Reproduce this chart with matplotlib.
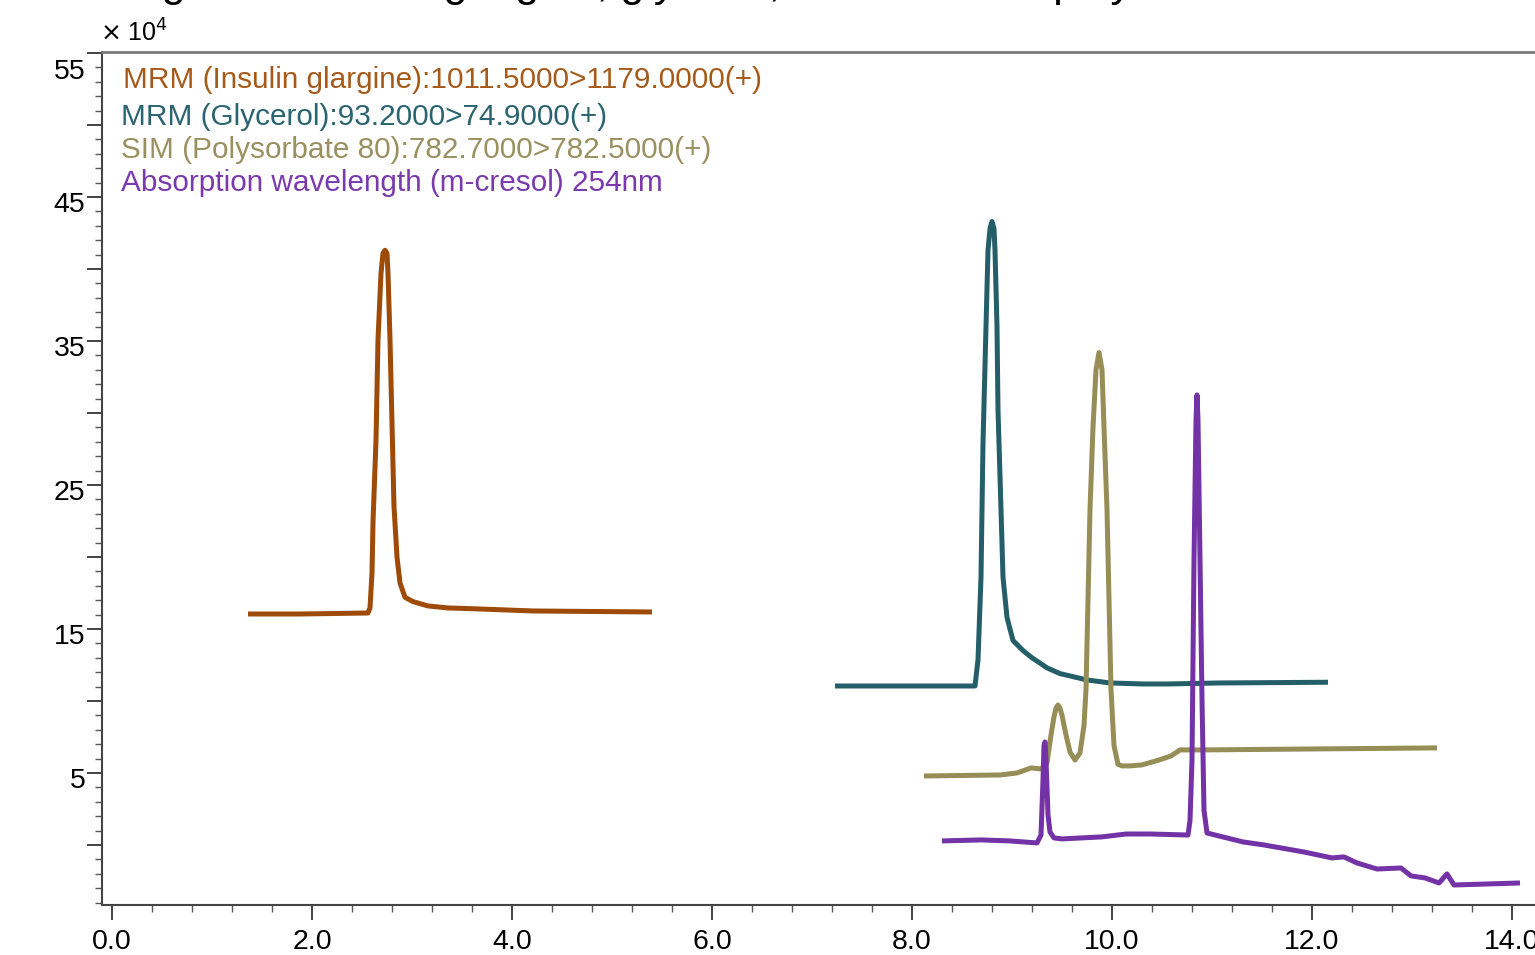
import matplotlib
matplotlib.use('Agg')
import matplotlib.pyplot as plt
from matplotlib.ticker import MultipleLocator, FuncFormatter
from matplotlib.transforms import ScaledTranslation

plt.rcParams['font.family'] = ['Liberation Sans', 'DejaVu Sans']

# retention time (min) and intensity (x 10^4)
glargine_t = [1.36, 1.88, 2.56, 2.58, 2.60, 2.61, 2.64, 2.66, 2.69, 2.71, 2.73, 2.75,
              2.76, 2.78, 2.80, 2.82, 2.85, 2.88, 2.93, 3.01, 3.16, 3.36, 3.63, 4.21, 5.40]
glargine_y = [16.04, 16.04, 16.11, 16.46, 18.9, 22.4, 28.1, 35.1, 39.7, 41.1, 41.3, 41.1,
              39.7, 35.1, 29.3, 23.5, 20.0, 18.2, 17.2, 16.9, 16.6, 16.46, 16.4, 16.25, 16.18]

glycerol_t = [7.23, 8.63, 8.66, 8.69, 8.71, 8.74, 8.76, 8.78, 8.80, 8.82, 8.83, 8.85,
              8.86, 8.89, 8.91, 8.95, 9.01, 9.11, 9.20, 9.35, 9.48, 9.75, 9.98, 10.31,
              10.55, 11.08, 12.16]
glycerol_y = [11.04, 11.04, 12.85, 18.6, 27.9, 36.0, 41.3, 42.8, 43.3, 42.8, 41.3, 36.0,
              30.2, 23.3, 18.6, 15.8, 14.2, 13.5, 13.0, 12.3, 11.9, 11.46, 11.25, 11.18,
              11.18, 11.25, 11.3]

polysorbate_t = [8.12, 8.88, 9.05, 9.19, 9.29, 9.35, 9.39, 9.42, 9.44, 9.46, 9.48, 9.50,
                 9.54, 9.58, 9.63, 9.68, 9.72, 9.74, 9.78, 9.81, 9.84, 9.87, 9.90, 9.92,
                 9.95, 9.99, 10.02, 10.06, 10.10, 10.18, 10.30, 10.47, 10.59, 10.68,
                 10.88, 13.25]
polysorbate_y = [4.79, 4.86, 5.0, 5.35, 5.28, 5.69, 7.64, 8.9, 9.5, 9.72, 9.5, 9.0,
                 7.64, 6.46, 5.9, 6.39, 8.3, 10.8, 23.3, 29.0, 33.0, 34.2, 33.0, 29.0,
                 23.3, 10.8, 6.9, 5.6, 5.49, 5.49, 5.56, 5.9, 6.18, 6.6,
                 6.6, 6.74]

cresol_t = [8.30, 8.69, 8.98, 9.25, 9.29, 9.31, 9.32, 9.33, 9.34, 9.36, 9.38, 9.42,
            9.50, 9.90, 10.14, 10.39, 10.76, 10.78, 10.80, 10.82, 10.84, 10.85, 10.86,
            10.88, 10.90, 10.92, 10.95, 11.31, 11.52, 11.92, 12.20, 12.32, 12.45, 12.65,
            12.89, 12.99, 13.13, 13.27, 13.35, 13.42, 14.08]
cresol_y = [0.28, 0.35, 0.28, 0.14, 0.69, 4.5, 6.9, 7.15, 5.9, 2.1, 0.9, 0.49,
            0.42, 0.56, 0.76, 0.76, 0.69, 1.7, 5.9, 19.8, 29.5, 31.25, 29.5,
            19.8, 10.1, 2.4, 0.83, 0.21, 0.0, -0.49, -0.9, -0.83, -1.25, -1.67,
            -1.6, -2.15, -2.29, -2.64, -2.01, -2.78, -2.64]

labels = ['MRM (Insulin glargine):1011.5000>1179.0000(+)',
          'MRM (Glycerol):93.2000>74.9000(+)',
          'SIM (Polysorbate 80):782.7000>782.5000(+)',
          'Absorption wavelength (m-cresol) 254nm']
colors = ['#9E4A08', '#245E69', '#978D57', '#7332A6']
text_colors = ['#A65A1A', '#2A6470', '#9A9060', '#7A3AAE']

scale = 1e4

fig = plt.figure(figsize=(15.35, 9.55), dpi=100)
ax = fig.add_axes([102 / 1535, 50 / 955, 1433 / 1535, 853 / 955])

series = [(glargine_t, glargine_y), (glycerol_t, glycerol_y),
          (polysorbate_t, polysorbate_y), (cresol_t, cresol_y)]
for (t, y), c in zip(series, colors):
    ax.plot(t, [v * scale for v in y], color=c, lw=3.6, solid_joinstyle='round',
            solid_capstyle='butt')

ax.set_xlim(-0.1, 14.23)
ax.set_ylim(-4.17 * scale, 55.07 * scale)

ax.xaxis.set_major_locator(MultipleLocator(2))
ax.xaxis.set_minor_locator(MultipleLocator(0.4))
ax.xaxis.set_major_formatter(FuncFormatter(lambda v, p: '%.1f' % v))
ax.yaxis.set_major_locator(MultipleLocator(5 * scale))
ax.yaxis.set_minor_locator(MultipleLocator(1 * scale))


def ylab(v, p):
    n = int(round(v / scale))
    return str(n) if n % 10 == 5 else ''


ax.yaxis.set_major_formatter(FuncFormatter(ylab))

ax.tick_params(axis='both', which='major', direction='out', length=11, width=1.2,
               labelsize=20.5, color='#222222')
ax.tick_params(axis='both', which='minor', direction='out', length=5, width=1.0,
               color='#555555')
ax.tick_params(axis='y', which='major', pad=1)
ax.tick_params(axis='x', which='major', pad=6.5)

fig.canvas.draw()
for lab in ax.get_yticklabels():
    dy = -16 if lab.get_text() == '55' else -5
    lab.set_transform(lab.get_transform() + ScaledTranslation(0, dy / 100, fig.dpi_scale_trans))

ax.spines['right'].set_visible(False)
ax.spines['top'].set_color('#7a7a7a')
ax.spines['top'].set_linewidth(2)
ax.spines['left'].set_color('#444444')
ax.spines['left'].set_linewidth(1.5)
ax.spines['bottom'].set_color('#444444')
ax.spines['bottom'].set_linewidth(1.5)

ys = [80, 117, 150, 183]
xs = [123, 121, 121, 121]
for lab, c, x, y in zip(labels, text_colors, xs, ys):
    fig.text(x / 1535, 1 - y / 955, lab, color=c, fontsize=21.4, va='center', ha='left')

fig.text(100 / 1535, 1 - 33 / 955, r'$\times$ 10$^4$', fontsize=18, va='center', ha='left')

# title is cut off at the top of the picture; only descenders show
fig.text(126 / 1535, 1 + 4 / 955, 'Figure 1. Insulin glargine, glycerol, m-cresol and polysorbate 80',
         fontsize=31, va='baseline', ha='left')

fig.savefig('out.png', dpi=100)
